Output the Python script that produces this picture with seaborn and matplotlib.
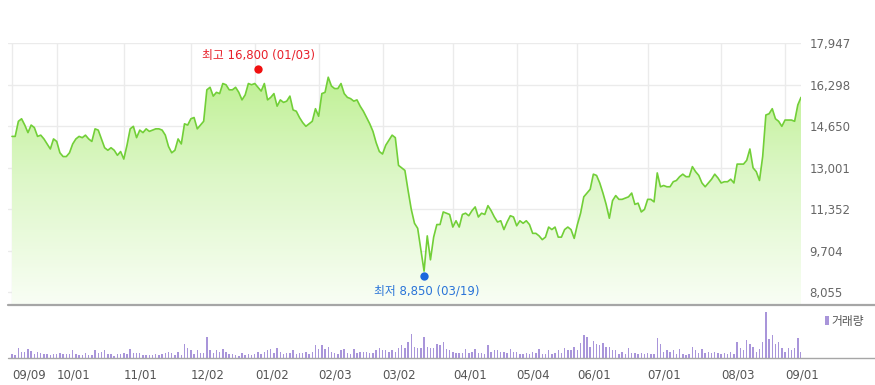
import matplotlib
matplotlib.use("Agg")
import numpy as np
import pandas as pd
import matplotlib.pyplot as plt
import matplotlib.transforms as mtransforms
from matplotlib.colors import LinearSegmentedColormap
from matplotlib.lines import Line2D
from matplotlib.patches import Rectangle
import seaborn as sns

# ---------------------------------------------------------------
# data (daily close in KRW, volume in arbitrary thousand-share units)
# ---------------------------------------------------------------
start_date = "2019-09-09"
end_date = "2020-09-08"
krx_holidays = ["2019-09-12", "2019-09-13", "2019-10-03", "2019-10-09",
                "2019-12-25", "2019-12-31", "2020-01-01", "2020-01-24",
                "2020-01-27", "2020-04-15", "2020-04-30", "2020-05-01",
                "2020-05-05", "2020-08-17"]

close = [
    14250, 14250, 14850, 14950, 14700, 14400, 14700, 14600, 14250, 14300,
    14150, 13950, 13750, 14150, 14050, 13600, 13450, 13450, 13600, 13950,
    14150, 14250, 14200, 14300, 14150, 14050, 14550, 14500, 14150, 13800,
    13700, 13800, 13700, 13500, 13650, 13350, 13900, 14550, 14650, 14200,
    14500, 14400, 14550, 14450, 14500, 14550, 14550, 14500, 14300, 13850,
    13600, 13700, 14150, 13950, 14750, 14700, 14950, 15000, 14550, 14700,
    14850, 16100, 16200, 15850, 16000, 15950, 16350, 16300, 16100, 16100,
    16200, 16000, 15700, 15900, 16350, 16300, 16350, 16200, 16050, 16350,
    15700, 15800, 15950, 15450, 15700, 15600, 15650, 15850, 15300, 15250,
    15000, 14800, 14650, 14750, 14850, 15350, 15050, 15950, 16000, 16600,
    16250, 16150, 16150, 16350, 15950, 15800, 15750, 15650, 15700, 15450,
    15250, 15000, 14750, 14450, 14000, 13650, 13550, 13900, 14100, 14300,
    14200, 13100, 13000, 12900, 12100, 11350, 10800, 10600, 9750, 8900,
    10300, 9350, 10250, 10750, 10750, 11250, 11200, 11150, 10650, 10900,
    10650, 11150, 11200, 11100, 11300, 11450, 11050, 11200, 11150, 11500,
    11300, 11050, 10850, 10900, 10550, 10850, 11100, 11050, 10700, 10900,
    10800, 10900, 10750, 10400, 10400, 10300, 10150, 10250, 10650, 10550,
    10650, 10250, 10250, 10550, 10650, 10550, 10200, 10750, 11200, 11850,
    12000, 12150, 12750, 12700, 12400, 12000, 11550, 11000, 11700, 11900,
    11750, 11750, 11800, 11850, 12000, 11550, 11600, 11250, 11350, 11750,
    11750, 11650, 12800, 12250, 12300, 12250, 12250, 12450, 12500, 12650,
    12750, 12650, 12650, 13050, 12850, 12700, 12400, 12250, 12400, 12550,
    12750, 12600, 12400, 12450, 12450, 12550, 12400, 13150, 13150, 13150,
    13300, 13750, 13000, 12850, 12500, 13450, 15100, 15150, 15350, 14950,
    14850, 14650, 14900, 14900, 14900, 14850, 15500, 15800,
]

volume = [
    100, 80, 300, 180, 180, 260, 200, 100, 180, 130,
    100, 100, 80, 100, 120, 150, 100, 100, 100, 220,
    100, 80, 80, 150, 80, 80, 220, 130, 180, 220,
    100, 100, 60, 100, 120, 150, 120, 250, 150, 150,
    150, 80, 80, 80, 80, 100, 80, 100, 150, 180,
    150, 80, 180, 80, 400, 300, 220, 100, 220, 150,
    150, 630, 220, 150, 220, 180, 250, 180, 120, 100,
    80, 60, 150, 80, 120, 80, 100, 180, 100, 180,
    220, 250, 150, 300, 180, 100, 150, 150, 220, 100,
    150, 150, 180, 100, 180, 370, 270, 370, 270, 330,
    180, 150, 100, 220, 270, 150, 100, 270, 150, 180,
    180, 180, 150, 150, 220, 300, 220, 220, 180, 220,
    180, 300, 370, 300, 480, 700, 330, 300, 300, 630,
    330, 300, 300, 400, 370, 480, 270, 220, 180, 150,
    150, 150, 250, 150, 180, 250, 150, 150, 100, 370,
    180, 220, 220, 180, 180, 150, 250, 180, 180, 100,
    100, 150, 100, 180, 150, 270, 100, 100, 220, 100,
    150, 220, 150, 300, 220, 220, 330, 220, 450, 680,
    630, 330, 500, 400, 370, 450, 330, 330, 220, 220,
    100, 180, 100, 300, 150, 150, 100, 150, 100, 150,
    100, 100, 600, 400, 180, 220, 180, 220, 100, 250,
    100, 80, 100, 330, 220, 150, 250, 150, 180, 150,
    180, 150, 100, 150, 120, 180, 100, 480, 300, 220,
    520, 400, 330, 180, 250, 480, 1360, 560, 670, 400,
    460, 300, 180, 300, 220, 300, 600, 180,
]

y_ticks = [8055, 9704, 11352, 13001, 14650, 16298, 17947]
tick_dates = ["2019-09-09", "2019-10-01", "2019-11-01", "2019-12-02",
              "2020-01-02", "2020-02-03", "2020-03-02", "2020-04-01",
              "2020-05-04", "2020-06-01", "2020-07-01", "2020-08-03",
              "2020-09-01"]
tick_labels = ["09/09", "10/01", "11/01", "12/02", "01/02", "02/03", "03/02",
               "04/01", "05/04", "06/01", "07/01", "08/03", "09/01"]

high_date, high_value, high_text = "2020-01-03", 16800, "최고 16,800 (01/03)"
low_date, low_value, low_text = "2020-03-19", 8850, "최저 8,850 (03/19)"

# ---------------------------------------------------------------
# build frame on the trading calendar
# ---------------------------------------------------------------
dates = pd.bdate_range(start_date, end_date, freq="C", holidays=krx_holidays)
df = pd.DataFrame({"date": dates, "close": close, "volume": volume})
df["idx"] = np.arange(len(df))
pos = {d.strftime("%Y-%m-%d"): i for i, d in enumerate(dates)}
tick_idx = [pos[d] for d in tick_dates]

sns.set_theme(style="white")
plt.rcParams["font.family"] = ["DejaVu Sans", "Noto Sans CJK KR"]

W, H = 875, 385
fig = plt.figure(figsize=(W / 100, H / 100), dpi=100)
fig.patch.set_facecolor("white")

x0, x1 = -1.25, len(df) - 1
y_lo, y_hi = 7555, 17947

ax = fig.add_axes([8 / W, 1 - 305 / H, 793 / W, (305 - 43.3) / H])
ax_vol = fig.add_axes([8 / W, 1 - 357.7 / H, 793 / W, (357.7 - 305) / H])

# --- price panel ---
poly = ax.fill_between(df["idx"], df["close"], y_lo, color="none", lw=0)
cmap = LinearSegmentedColormap.from_list("fade", ["#b6ee84", "#dcf7c6", "#f9fef5"])
grad = np.linspace(0, 1, 256).reshape(-1, 1)
im = ax.imshow(grad, extent=[x0, x1, y_lo, y_hi], aspect="auto", cmap=cmap,
               origin="upper", zorder=1)
im.set_clip_path(poly.get_paths()[0], transform=ax.transData)

sns.lineplot(data=df, x="idx", y="close", color="#72cf38", linewidth=1.2,
             ax=ax, zorder=3)

ax.set_xlim(x0, x1)
ax.set_ylim(y_lo, y_hi)
ax.set_xticks(tick_idx)
ax.set_xticklabels([])
ax.set_yticks(y_ticks)
ax.set_yticklabels([f"{v:,}" for v in y_ticks])
ax.yaxis.tick_right()
ax.tick_params(axis="y", length=0, pad=6, labelsize=8.5, labelcolor="#666666")
ax.tick_params(axis="x", length=0)
ax.grid(True, color="#ebebeb", linewidth=1)
ax.set_axisbelow(True)
ax.set_xlabel("")
ax.set_ylabel("")
for s in ax.spines.values():
    s.set_visible(False)

# high / low markers
hi_i, lo_i = pos[high_date], pos[low_date]
up = mtransforms.offset_copy(ax.transData, fig=fig, x=0, y=3.5, units="dots")
down = mtransforms.offset_copy(ax.transData, fig=fig, x=0, y=-3.5, units="dots")
ax.plot([hi_i], [high_value], "o", color="#f01010", ms=6, mew=0, transform=up, zorder=5)
ax.plot([lo_i], [low_value], "o", color="#1a66dd", ms=6, mew=0, transform=down, zorder=5)
ax.annotate(high_text, xy=(hi_i, high_value), xytext=(1, 17), textcoords="offset pixels",
            ha="center", va="center", color="#e8202a", fontsize=8.5)
ax.annotate(low_text, xy=(lo_i, low_value), xytext=(3, -18.5), textcoords="offset pixels",
            ha="center", va="center", color="#2a74d8", fontsize=8.5)

# --- volume panel ---
sns.barplot(data=df, x="idx", y="volume", native_scale=True, width=0.45,
            color="#a995da", saturation=1, errorbar=None, ax=ax_vol,
            linewidth=0, edgecolor="none")
ax_vol.set_xlim(x0, x1)
ax_vol.set_ylim(0, 1580)
ax_vol.set_yticks([])
ax_vol.set_xticks(tick_idx)
ax_vol.set_xticklabels(tick_labels, ha="left")
ax_vol.tick_params(axis="x", direction="out", length=4, width=1, color="#aaaaaa",
                   pad=4, labelsize=8.5, labelcolor="#555555")
ax_vol.set_xlabel("")
ax_vol.set_ylabel("")
for s in ax_vol.spines.values():
    s.set_visible(False)

# separators across the full width
fig.add_artist(Line2D([8 / W, 1], [1 - 305 / H] * 2, transform=fig.transFigure,
                      color="#a6a6a6", lw=1.6))
fig.add_artist(Line2D([8 / W, 1], [1 - 358 / H] * 2, transform=fig.transFigure,
                      color="#a6a6a6", lw=1.0))

# volume legend
fig.add_artist(Rectangle((825 / W, 1 - 325 / H), 3.5 / W, 9 / H,
                         transform=fig.transFigure, color="#a995da", lw=0))
fig.text(831 / W, 1 - 321 / H, "거래량", ha="left", va="center",
         fontsize=8.5, color="#555555")

fig.savefig("out.png", dpi=100)
